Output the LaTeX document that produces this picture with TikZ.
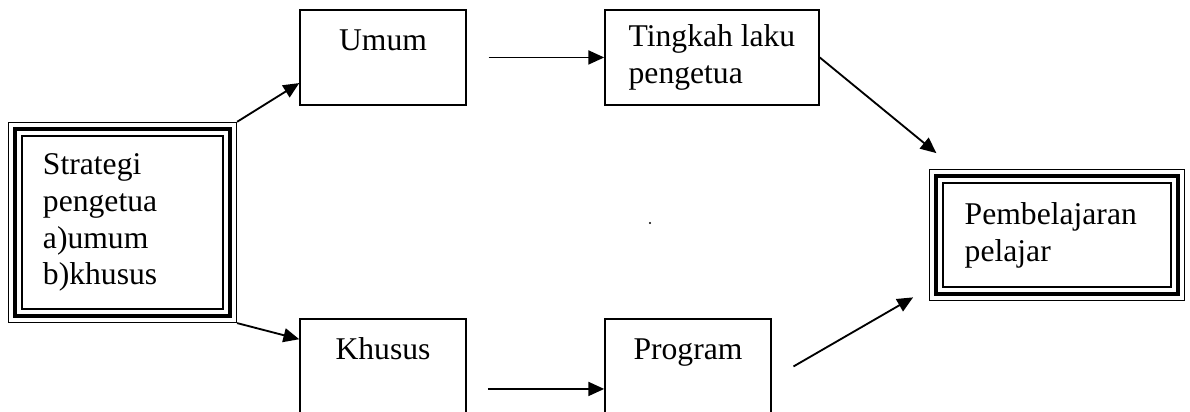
\documentclass[tikz,border=0pt]{standalone}
\usepackage{fontspec}
\setmainfont{Liberation Serif}
\usetikzlibrary{arrows.meta, positioning, fit, calc}

\begin{document}
\begin{tikzpicture}[
  every node/.style={font=\fontsize{12}{14}\selectfont},
  box/.style={rectangle, draw=black, line width=0.6pt,
              minimum width=2.213cm, minimum height=1.267cm, align=center,
              text height=11.2pt, text depth=16.7pt},
  wbox/.style={rectangle, draw=black, line width=0.6pt,
               minimum width=2.853cm, minimum height=1.267cm, align=left},
  inbox/.style={rectangle, draw=black, line width=0.5pt, inner xsep=0.28cm,
                align=left},
  midframe/.style={rectangle, draw=black, line width=1.6pt, inner sep=2.4pt},
  outframe/.style={rectangle, draw=black, line width=0.5pt, inner sep=1.66pt},
  arr/.style={-{Triangle[length=6pt, width=5.3pt]}, line width=0.7pt}
]
  \useasboundingbox (0,0) rectangle (15.867,5.493);
  \clip (0,0) rectangle (15.867,5.493);

  % Left: start box with triple frame
  \node[inbox, minimum width=2.68cm, minimum height=2.307cm, text width=2.12cm]
    (strat) at (1.633, 2.527) {Strategi\\pengetua\\a)umum\\b)khusus};
  \node[midframe, fit=(strat)] (strat-mid) {};
  \node[outframe, fit=(strat-mid)] (strat-out) {};

  % Top row
  \node[box]  (umum)    at (5.107, 4.727) {Umum};
  \node[wbox] (tingkah) at (9.493, 4.727) {Tingkah laku\\pengetua};

  % Bottom row (cut by the lower edge)
  \node[box] (khusus)  at (5.107, 0.607) {Khusus};
  \node[box] (program) at (9.173, 0.607) {Program};

  % Right: result box with triple frame
  \node[inbox, minimum width=3.04cm, minimum height=1.387cm, text width=2.46cm]
    (pemb) at (14.093, 2.36) {Pembelajaran\\pelajar};
  \node[midframe, fit=(pemb)] (pemb-mid) {};
  \node[outframe, fit=(pemb-mid)] (pemb-out) {};

  % Arrows
  \draw[arr] (strat-out.north east) -- (umum.197);
  \draw[arr] (strat-out.south east) -- (khusus.162);
  \draw[arr] ([xshift=0.29cm]umum.east) -- (tingkah.west);
  \draw[arr] ([xshift=0.28cm, yshift=-0.3cm]khusus.east)
          -- ([yshift=-0.3cm]program.west);
  \draw[arr] (tingkah.east) -- ([xshift=0.1cm, yshift=0.21cm]pemb-out.north west);
  \draw[arr] ([xshift=0.29cm]program.east)
          -- ([xshift=-0.21cm, yshift=0.05cm]pemb-out.south west);

  % stray dot
  \fill (8.667, 2.52) circle (0.4pt);
\end{tikzpicture}
\end{document}
